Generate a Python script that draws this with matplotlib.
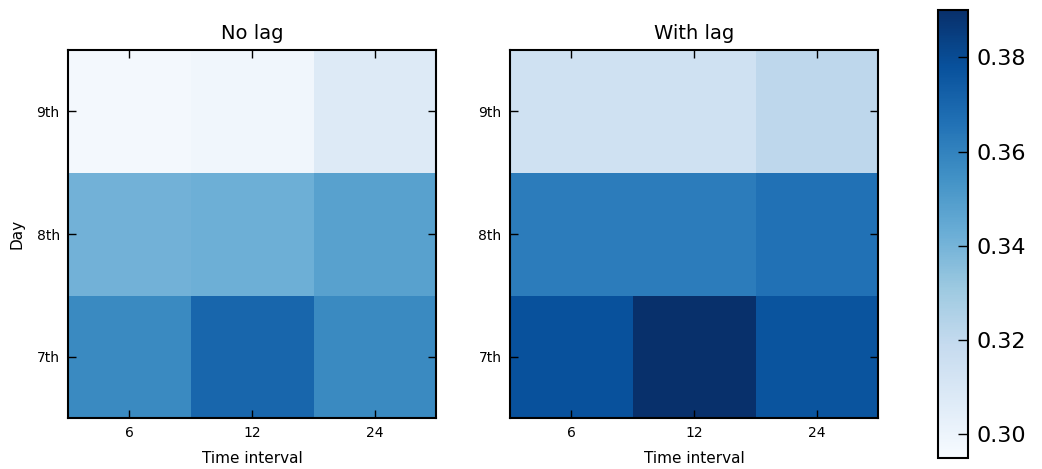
import numpy as np
import matplotlib
matplotlib.use('Agg')
import matplotlib.pyplot as plt

intervals = ['6', '12', '24']
days = ['7th', '8th', '9th']

# rows: 7th, 8th, 9th ; columns: 6, 12, 24
no_lag = np.array([
    [0.357, 0.370, 0.357],
    [0.341, 0.342, 0.348],
    [0.297, 0.298, 0.307],
])
with_lag = np.array([
    [0.378, 0.390, 0.377],
    [0.362, 0.362, 0.366],
    [0.314, 0.314, 0.321],
])

vmin, vmax = 0.295, 0.390

fig = plt.figure(figsize=(10.42, 4.69), dpi=100)
ax1 = fig.add_axes([0.0653, 0.1087, 0.3532, 0.7846])
ax2 = fig.add_axes([0.4894, 0.1087, 0.3532, 0.7846])
cax = fig.add_axes([0.9002, 0.0235, 0.0288, 0.955])

for ax, data, title in [(ax1, no_lag, 'No lag'), (ax2, with_lag, 'With lag')]:
    im = ax.imshow(data, cmap='Blues', vmin=vmin, vmax=vmax, origin='lower',
                   interpolation='nearest', aspect='auto')
    ax.set_xticks(range(len(intervals)))
    ax.set_xticklabels(intervals)
    ax.set_yticks(range(len(days)))
    ax.set_yticklabels(days)
    ax.tick_params(direction='in', top=True, right=True, length=6, width=1,
                   labelsize=10, pad=6)
    for s in ax.spines.values():
        s.set_linewidth(1.5)
    ax.set_title(title, fontsize=14, pad=8)
    ax.set_xlabel('Time interval', fontsize=11, labelpad=8)

ax1.set_ylabel('Day', fontsize=11, labelpad=9)

cb = fig.colorbar(im, cax=cax, ticks=[0.30, 0.32, 0.34, 0.36, 0.38])
cb.ax.tick_params(direction='in', length=7, width=1, labelsize=16, pad=6)
cb.ax.set_yticklabels(['0.30', '0.32', '0.34', '0.36', '0.38'])
cb.outline.set_linewidth(1.5)

fig.savefig('out.png', dpi=100)
